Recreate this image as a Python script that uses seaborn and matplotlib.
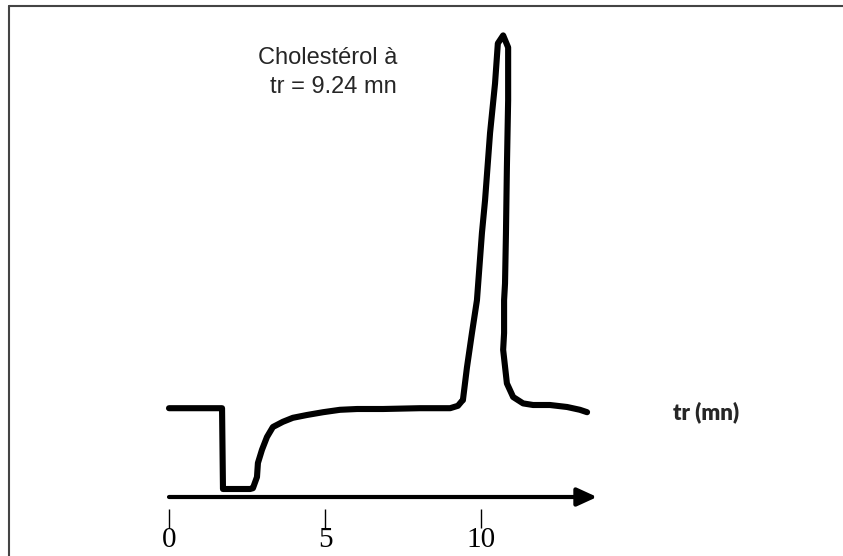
import matplotlib
matplotlib.use("Agg")
import matplotlib.pyplot as plt
from matplotlib.lines import Line2D
import pandas as pd
import seaborn as sns

# chromatogram trace (time in mn, signal in arbitrary units)
temps = [0.0, 1.70, 1.73, 2.60, 2.69, 2.82, 2.85, 2.98, 3.14, 3.33, 3.65, 3.97,
         4.42, 4.94, 5.48, 6.03, 6.86, 8.04, 9.01, 9.26, 9.39, 9.42, 9.55, 9.71,
         9.87, 10.03, 10.13, 10.29, 10.45, 10.54, 10.71, 10.87, 10.87, 10.83,
         10.80, 10.77, 10.74, 10.74, 10.71, 10.83, 11.03, 11.35, 11.67, 12.21,
         12.76, 13.17, 13.40]
signal = [11.1, 11.1, 1.0, 1.0, 1.1, 2.5, 4.25, 5.9, 7.5, 8.75, 9.4, 9.9,
          10.25, 10.6, 10.9, 11.0, 11.0, 11.1, 11.1, 11.4, 12.0, 12.1, 16.2, 20.5,
          24.6, 33.0, 37.1, 45.5, 51.7, 56.7, 57.7, 56.2, 49.6, 41.2,
          33.0, 26.7, 24.6, 20.5, 18.4, 14.2, 12.5, 11.7, 11.5, 11.5,
          11.25, 10.9, 10.6]
ticks = [0, 5, 10]
t_fin = 13.72
note = "Cholestérol à\ntr = 9.24 mn"
label_x = "tr (mn)"

df = pd.DataFrame({"t": temps, "s": signal})

sns.set_style("white")
plt.rcParams["font.family"] = ["Liberation Sans", "DejaVu Sans"]

fig = plt.figure(figsize=(8.43, 5.56), dpi=100)
ax = fig.add_axes([0, 28 / 556, 1, 528 / 556])

sns.lineplot(data=df, x="t", y="s", sort=False, estimator=None, color="black",
             linewidth=4.4, solid_capstyle="round", solid_joinstyle="round", ax=ax)

# axe du temps avec flèche
ax.annotate("", xy=(t_fin, 0), xytext=(0, 0),
            arrowprops=dict(arrowstyle="-|>,head_length=1.2,head_width=0.55",
                            color="black", lw=3, shrinkA=0, shrinkB=0))

ax.set_xlim(-169 / 31.2, (843 - 169) / 31.2)
ax.set_ylim(-31 / 8, 497 / 8)
for sp in ax.spines.values():
    sp.set_visible(False)
ax.set_yticks([])
ax.set_xticks(ticks)
ax.set_xticklabels([str(v) for v in ticks], family="Liberation Serif", fontsize=21)
ax.tick_params(axis="x", direction="in", length=13.7, width=1, pad=-0.5,
               colors="black", bottom=True)
ax.set_xlabel("")
ax.set_ylabel("")

ax.text(7.31, 56.2, note, ha="right", va="top", fontsize=17,
        multialignment="right", linespacing=1.38)
ax.text(17.21, 10.6, label_x, ha="center", va="center", fontsize=16,
        fontweight="heavy", family=["Lato", "DejaVu Sans"])

# cadre gauche et haut
fig.add_artist(Line2D([9 / 843, 1], [1 - 6 / 556, 1 - 6 / 556],
                      transform=fig.transFigure, color="#444444", lw=1.5))
fig.add_artist(Line2D([9 / 843, 9 / 843], [0, 1 - 6 / 556],
                      transform=fig.transFigure, color="#444444", lw=1.5))

fig.savefig("out.png", dpi=100)
